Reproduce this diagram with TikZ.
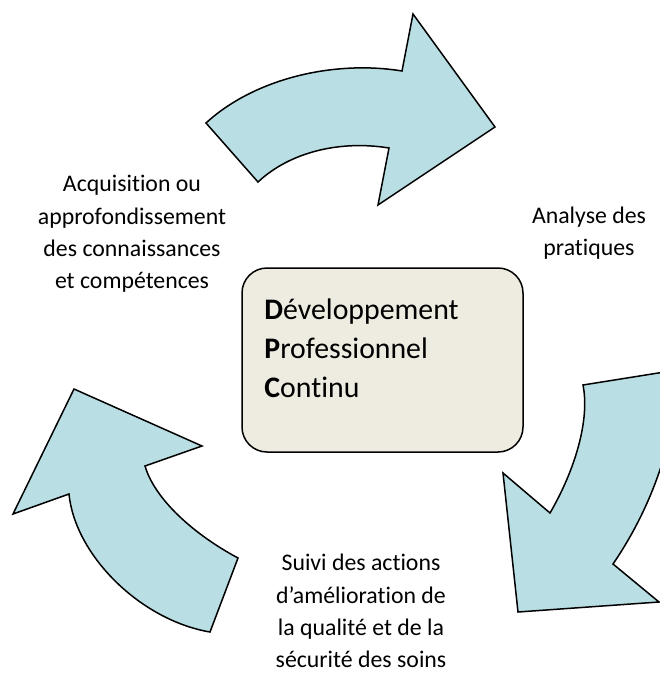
\documentclass[tikz,border=0pt]{standalone}
\usepackage{fontspec}
\setmainfont{Carlito}[Ligatures={NoCommon}]
\usetikzlibrary{positioning}
\definecolor{cyclefill}{HTML}{B9DFE4}
\definecolor{boxfill}{HTML}{EEECE1}
\begin{document}
\begin{tikzpicture}[x=1pt, y=-1pt, line join=miter,
    cyclearrow/.style={fill=cyclefill, draw=black, line width=1.5pt},
    steplabel/.style={align=center, inner sep=0pt, font=\fontsize{23.8}{32.2}\selectfont},
    dpcbox/.style={draw=black, fill=boxfill, line width=1.5pt, rounded corners=25pt, minimum width=281pt, minimum height=184pt},
    dpctext/.style={align=left, inner sep=0pt, font=\fontsize{29.8}{39}\selectfont}]
    \useasboundingbox (0,0) rectangle (660,673);
    \filldraw[cyclearrow] (206,123) .. controls (255,78) and (335,60) .. (402,71) -- (413,14) -- (495,127)
        -- (378,205) -- (389,148) .. controls (340,140) and (290,152) .. (258,182) -- cycle;
    \filldraw[cyclearrow] (583,385) -- (677,370) .. controls (677,440) and (650,510) .. (613,564) -- (659,602)
        -- (518,612) -- (503,473) -- (550,513) .. controls (575,470) and (590,420) .. (583,385) -- cycle;
    \filldraw[cyclearrow] (74,389) -- (202,446) -- (145,466) .. controls (155,500) and (195,535) .. (238,558)
        -- (210,632) .. controls (140,620) and (75,555) .. (69,494) -- (13,514) -- cycle;
    \node[dpcbox] (dpc) at (382.5,360) {};
    \node[dpctext, right=23pt of dpc.west, yshift=12pt] (dpcname) {\textbf{D}éveloppement\\\textbf{P}rofessionnel\\\textbf{C}ontinu};
    \node[steplabel] (acquisition) at (132,234) {Acquisition ou\\approfondissement\\des connaissances\\et compétences};
    \node[steplabel] (analyse) at (589,233) {Analyse des\\pratiques};
    \node[steplabel] (suivi) at (361,611) {Suivi des actions\\d’amélioration de\\la qualité et de la\\sécurité des soins};
\end{tikzpicture}
\end{document}
